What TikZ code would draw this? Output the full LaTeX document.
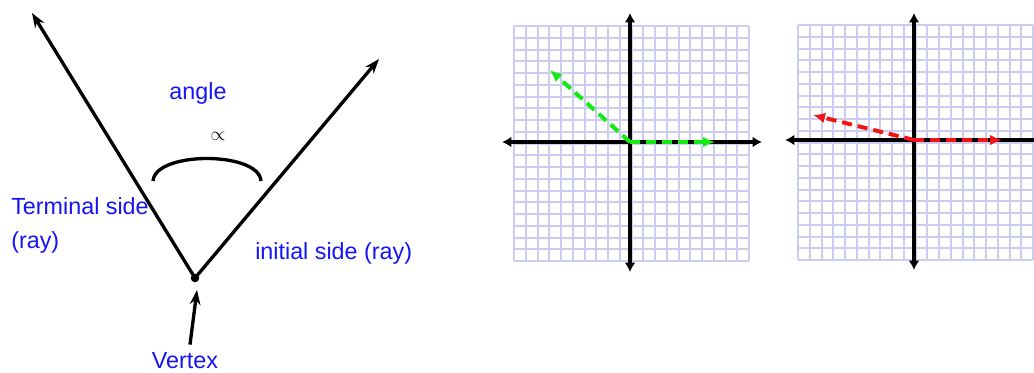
\documentclass[tikz,border=0pt]{standalone}
\usepackage{fontspec}
\setmainfont{Liberation Sans}
\usepackage{amssymb}
\usepackage{tikz}
\usetikzlibrary{arrows.meta,positioning}
\definecolor{labelblue}{RGB}{20,20,245}
\definecolor{gridlav}{RGB}{205,205,242}
\definecolor{rayGreen}{RGB}{20,235,20}
\definecolor{rayRed}{RGB}{240,20,20}
\tikzset{
  ray/.style={-{Stealth[length=11pt,width=8pt]}, line width=2.5pt, draw=black},
  axis/.style={{Latex[length=7pt,width=8pt]}-{Latex[length=7pt,width=8pt]}, line width=2.6pt, draw=black},
  gridline/.style={draw=gridlav, line width=1.5pt},
  dashray/.style={-{Latex[length=9pt,width=8pt]}, line width=3pt,
    dash pattern=on 7.5pt off 4.5pt, line join=round},
  bluetext/.style={text=labelblue, font=\fontsize{17.5}{25.5}\selectfont,
    inner sep=0pt, align=left}
}
\newcommand{\graphpaper}[2]{%
  \foreach \k in {0,...,20} {
    \draw[gridline] ({#1+\k*11.75},#2) -- ({#1+\k*11.75},{#2+235});
    \draw[gridline] (#1,{#2+\k*11.75}) -- ({#1+235},{#2+\k*11.75});
  }}

\begin{document}
\begin{tikzpicture}[x=0.75pt,y=-0.75pt]
  \useasboundingbox (0,0) rectangle (1034,372);

  % the angle
  \coordinate (vertex) at (195,278);
  \coordinate (termtip) at (32,13);
  \coordinate (inittip) at (379,59);
  \draw[ray] (vertex) -- (termtip);
  \draw[ray] (vertex) -- (inittip);
  \fill (vertex) circle (3.2pt);
  \coordinate (arcL) at (153,181);
  \coordinate (arcR) at (261,181);
  \draw[line width=2.5pt] (arcL) .. controls (155,151) and (259,151) .. (arcR);

  \node[bluetext] (anglelbl) at (198,93) {angle};
  \node[inner sep=0pt, font=\fontsize{15}{17}\selectfont] (alpha) at (218,136) {$\propto$};
  \node[bluetext, anchor=west] (termlbl) at (11,225) {Terminal side\\(ray)};
  \node[bluetext, anchor=west] (initlbl) at (255,253) {initial side (ray)};
  \node[bluetext] (vertexlbl) at (185,361) {Vertex};
  \draw[ray] (vertexlbl.north) ++(5,-8) coordinate (vtail) (vtail) -- (197,290);

  % first grid, green angle
  \graphpaper{514}{26}
  \coordinate (oA) at (630,142);
  \draw[axis] (502,142) -- (762,142);
  \draw[axis] (630,13) -- (630,272);
  \draw[dashray, draw=rayGreen, fill=rayGreen] (oA) -- (550,70);
  \draw[dashray, draw=rayGreen, fill=rayGreen] (oA) -- (715,142);

  % second grid, red angle
  \graphpaper{798}{25}
  \coordinate (oB) at (914,140);
  \draw[{Latex[length=7pt,width=8pt]}-, line width=2.6pt] (785,140) -- (1034,140);
  \draw[axis] (914,13) -- (914,270);
  \draw[dashray, draw=rayRed, fill=rayRed] (oB) -- (813,115);
  \draw[dashray, draw=rayRed, fill=rayRed] (oB) -- (1002,140);
\end{tikzpicture}
\end{document}
